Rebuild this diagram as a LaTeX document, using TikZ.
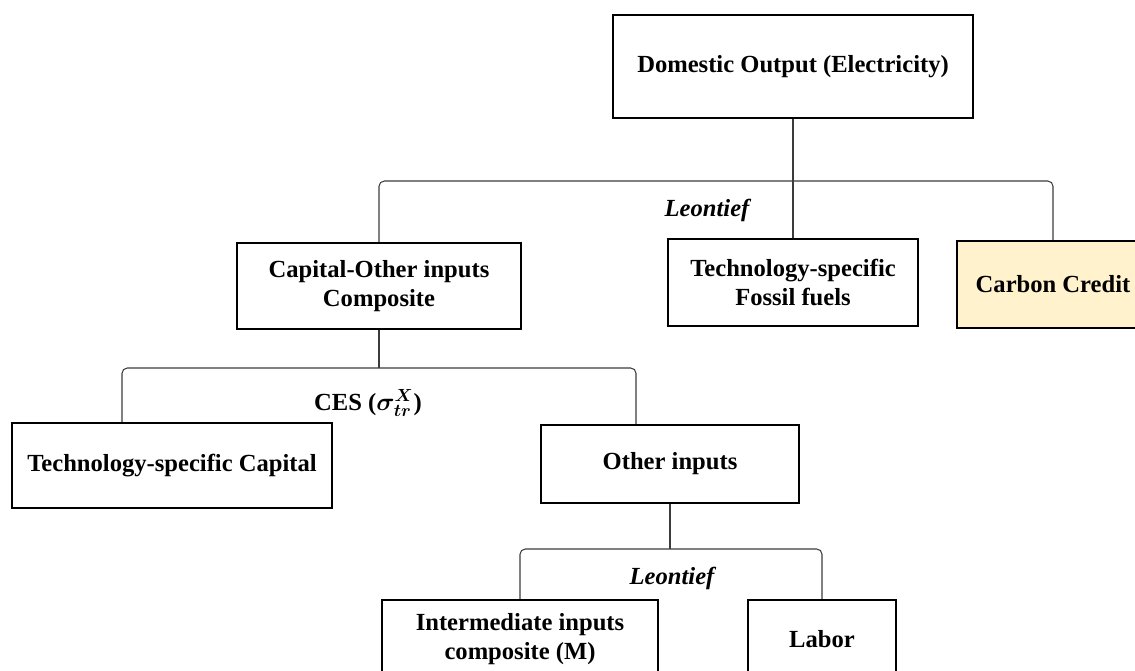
\documentclass[tikz,border=0pt]{standalone}
\usepackage{amsmath,amssymb,bm}
\usepackage{fontspec}
\setmainfont{Liberation Serif}
\usepackage{tikz}
\definecolor{creditfill}{HTML}{FFF2CC}
\definecolor{linkgray}{HTML}{3C3C3C}
\tikzset{
	blk/.style={draw,line width=1.2pt,inner sep=0pt,align=center,font=\fontsize{14}{16.5}\selectfont\bfseries},
	lnk/.style={draw=linkgray,line width=0.6pt,rounded corners=3pt},
	nest/.style={font=\fontsize{14}{16.5}\selectfont\bfseries\itshape}
}

\begin{document}
\begin{tikzpicture}[x=0.02cm,y=-0.02cm]
	\useasboundingbox (0,0) rectangle (1135,670);
	\clip (0,0) rectangle (1135,670);
	% boxes
	\node[blk,minimum width=7.2cm,minimum height=2.06cm] (out) at (793,66.5) {Domestic Output (Electricity)};
	\node[blk,minimum width=5.68cm,minimum height=1.72cm] (kom) at (379,286) {Capital-Other inputs\\Composite};
	\node[blk,minimum width=5cm,minimum height=1.74cm] (fos) at (793,282.5) {Technology-specific\\Fossil fuels};
	\node[blk,fill=creditfill,minimum width=3.84cm,minimum height=1.74cm] (cc) at (1053,284.5) {Carbon Credit};
	\node[blk,minimum width=6.4cm,minimum height=1.7cm] (kap) at (172,465.5) {Technology-specific Capital};
	\node[blk,minimum width=5.16cm,minimum height=1.56cm] (oth) at (670,464) {Other inputs};
	\node[blk,minimum width=5.52cm,minimum height=1.56cm] (im) at (520,639) {Intermediate inputs\\composite (M)};
	\node[blk,minimum width=2.96cm,minimum height=1.56cm] (lab) at (822,639) {Labor};
	% nest labels
	\node[nest] (n1) at (707,210) {Leontief};
	\node[nest,font=\fontsize{14}{16.5}\selectfont\bfseries] (n2) at (368,403) {CES ($\bm{\sigma^{X}_{tr}}$)};
	\node[nest] (n3) at (672,578) {Leontief};
	\coordinate (b1) at (379,181);
	\coordinate (b2) at (379,368);
	\coordinate (b2l) at (122,368);
	\coordinate (b2r) at (636,368);
	\coordinate (b3) at (670,549);
	% links
	\path[lnk] (kom.north) |- (cc.north |- b1) -- (cc.north);
	\path[lnk] (out.south) -- (fos.north);
	\path[lnk] (kom.south) -- (b2);
	\path[lnk] (kap.north -| b2l) -- (b2l) -- (b2r) -- (oth.north -| b2r);
	\path[lnk] (oth.south) -- (b3);
	\path[lnk] (im.north) |- (lab.north |- b3) -- (lab.north);
\end{tikzpicture}
\end{document}
